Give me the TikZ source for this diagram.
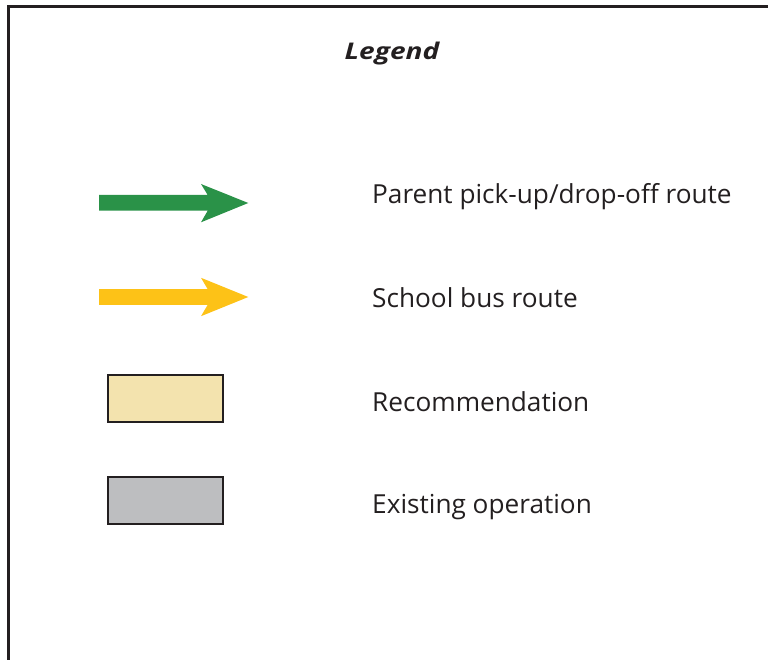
\documentclass[tikz,border=0pt]{standalone}
\usepackage{fontspec}
\setmainfont{Open Sans}
\definecolor{framec}{HTML}{231F20}
\definecolor{parentgreen}{HTML}{2A9248}
\definecolor{busyellow}{HTML}{FDC217}
\definecolor{recbeige}{HTML}{F3E3AE}
\definecolor{existgray}{HTML}{BDBEC0}
\tikzset{
  legendtext/.style={anchor=base west, inner sep=0pt, text=framec, font=\fontsize{26.2}{31}\selectfont},
  swatch/.style={draw=framec, line width=2pt, minimum width=115pt, minimum height=47pt, inner sep=0pt},
}
\begin{document}
\begin{tikzpicture}[x=1pt,y=-1pt]
\useasboundingbox (0,0) rectangle (768,660);
% frame (open on the right and bottom)
\draw[framec, line width=3pt] (8.7,660) -- (8.7,7) -- (768,7);
% title
\node[anchor=base, inner sep=0pt, text=framec, font=\fontsize{23}{27}\selectfont\bfseries\itshape] (title) at (392,59.5) {\scalebox{1.22}[1]{Legend}};
% green arrow
\fill[parentgreen] (99,195) -- (207.7,195) -- (201,184) -- (248.3,203) -- (201,222.3) -- (207.7,210.7) -- (99,210.7) -- cycle;
\coordinate (garrow) at (173,203);
% yellow arrow
\fill[busyellow] (99,289.2) -- (207.7,289.2) -- (201,277.8) -- (248.3,297) -- (201,316.2) -- (207.7,304.8) -- (99,304.8) -- cycle;
\coordinate (yarrow) at (173,297);
% swatches
\node[swatch, fill=recbeige] (rec) at (165,398.4) {};
\node[swatch, fill=existgray] (exist) at (165,500.2) {};
% labels
\node[legendtext] (t1) at (372,204) {Parent pick-up/drop-off route};
\node[legendtext] (t2) at (372,307) {School bus route};
\node[legendtext] (t3) at (372,411) {Recommendation};
\node[legendtext] (t4) at (372,513) {Existing operation};
\end{tikzpicture}
\end{document}
